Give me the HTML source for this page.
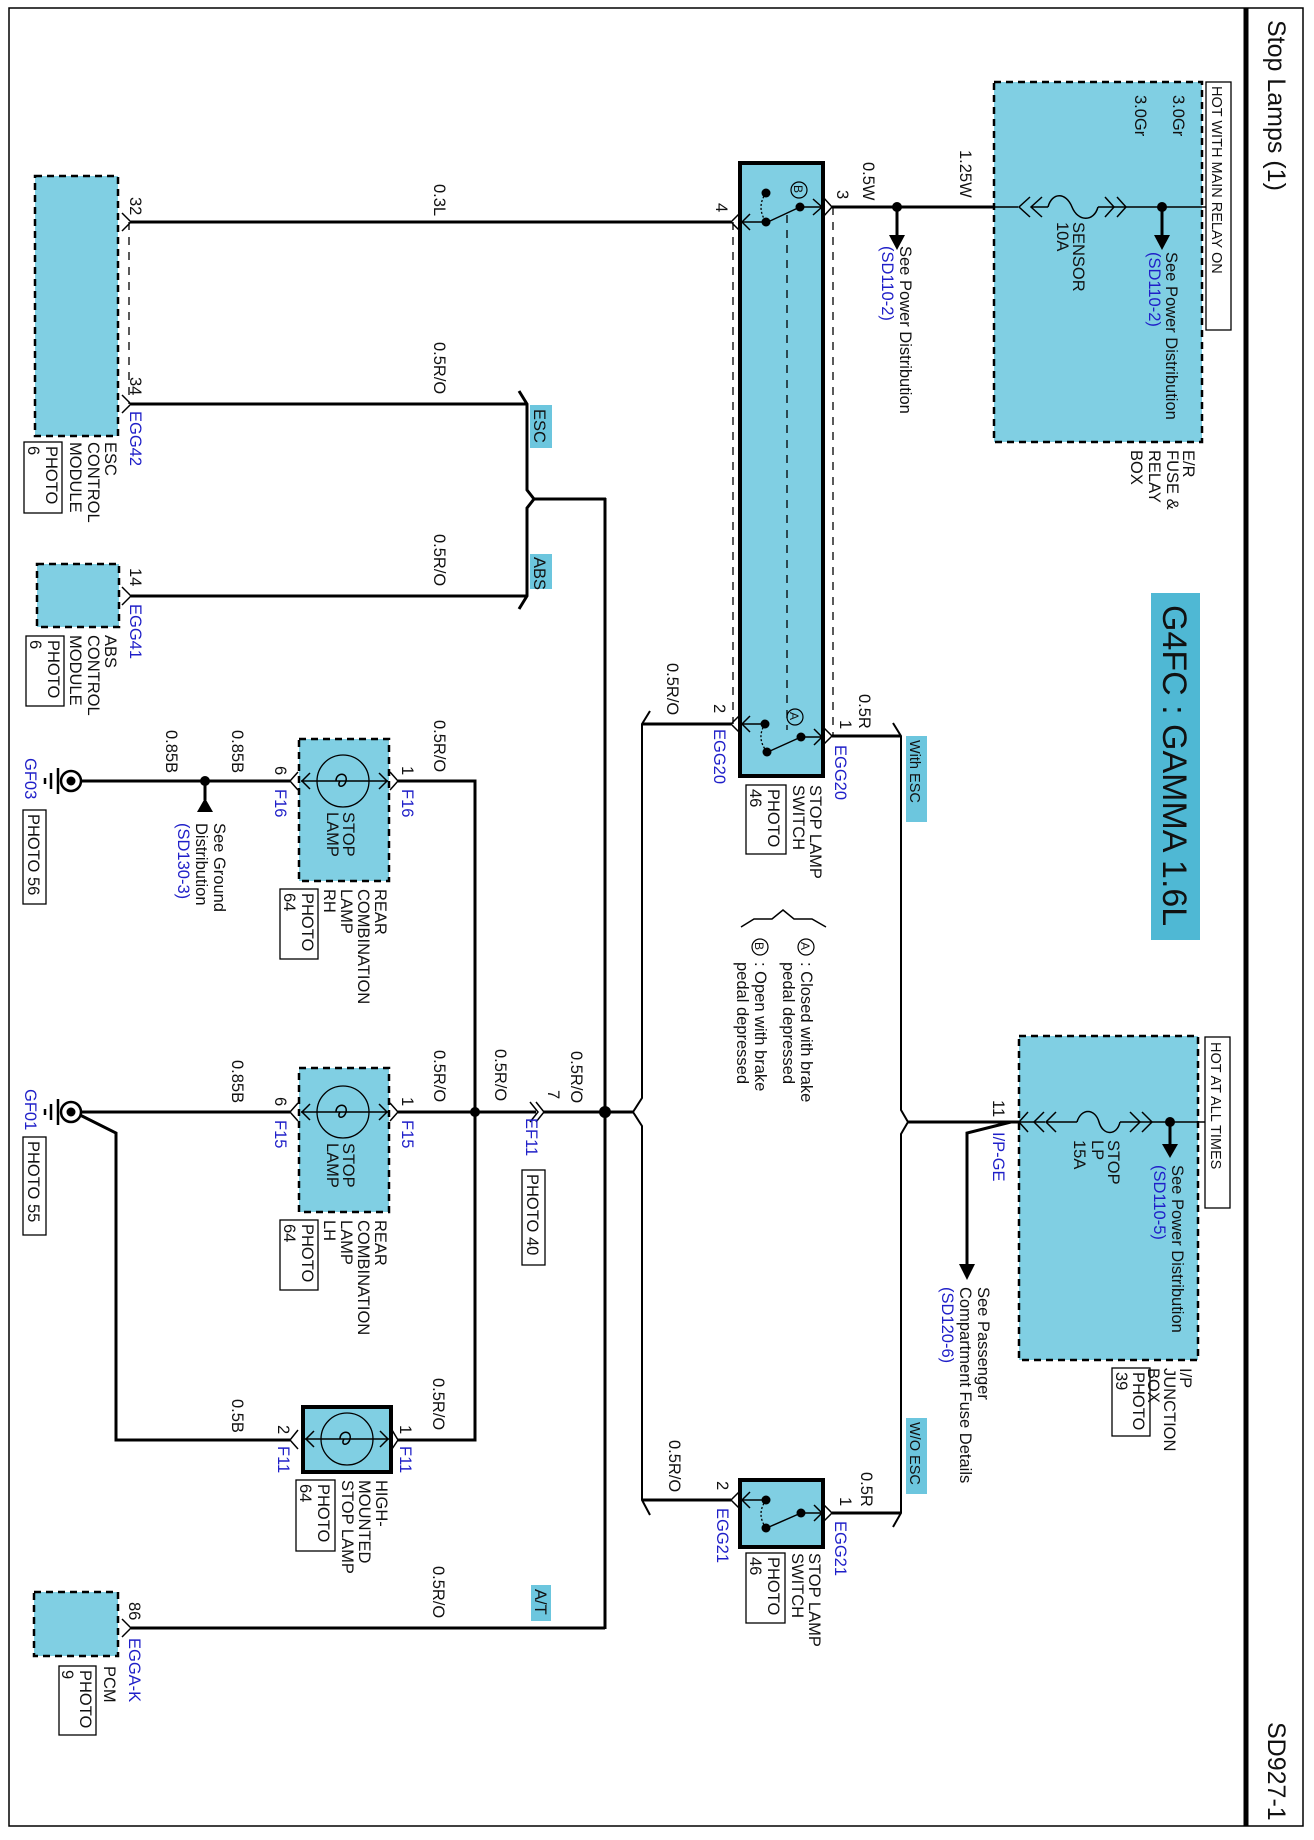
<!DOCTYPE html>
<html><head><meta charset="utf-8"><style>
html,body{margin:0;padding:0;background:#fff}
svg{display:block}
text{font-family:"Liberation Sans",Arial,sans-serif;font-size:16.5px;fill:#111}
.b{fill:#1f1fc8}
.w{stroke:#000;stroke-width:3;fill:none}
.t{stroke:#000;stroke-width:1.5;fill:none}
.box{fill:#80cfe3;stroke:#000;stroke-width:2.5;stroke-dasharray:7 5}
.sbox{fill:#80cfe3;stroke:#000;stroke-width:4}
.lb{fill:#6cc6de}
</style></head><body>
<svg width="1314" height="1840" viewBox="0 0 1314 1840" xmlns="http://www.w3.org/2000/svg">
<rect x="9" y="8" width="1294" height="1818" fill="none" stroke="#000" stroke-width="1.5"/>
<line x1="1246" y1="8" x2="1246" y2="1826" stroke="#000" stroke-width="5"/>
<text transform="translate(1268 20) rotate(90)" style="font-size:25px">Stop Lamps (1)</text>
<text transform="translate(1268 1722) rotate(90)" style="font-size:25px">SD927-1</text>

<!-- E/R fuse box -->
<rect class="box" x="994" y="82" width="208" height="360"/>
<rect x="1206" y="82" width="25" height="248" fill="#fff" stroke="#000" stroke-width="1.3"/>
<text transform="translate(1212 86) rotate(90)" style="font-size:14.5px">HOT WITH MAIN RELAY ON</text>
<line class="t" x1="994" y1="207" x2="1018" y2="207"/>
<polyline class="t" points="1030,197 1019,207 1030,217"/>
<polyline class="t" points="1042,197 1031,207 1042,217"/>
<line class="t" x1="1031" y1="207" x2="1048" y2="207"/>
<path class="t" d="M1048 207 C1052 192 1066 192 1072 207 C1078 222 1094 222 1098 207"/>
<line class="t" x1="1098" y1="207" x2="1125" y2="207"/>
<polyline class="t" points="1105,197 1114,207 1105,217"/>
<polyline class="t" points="1117,197 1126,207 1117,217"/>
<line class="t" x1="1126" y1="207" x2="1206" y2="207"/>
<circle cx="1162" cy="207" r="5"/>
<line class="w" x1="1162" y1="207" x2="1162" y2="236"/>
<polygon points="1154,235 1170,235 1162,250"/>
<text transform="translate(1173 95) rotate(90)">3.0Gr</text>
<text transform="translate(1135 95) rotate(90)">3.0Gr</text>
<text transform="translate(1166 252) rotate(90)">See Power Distribution</text>
<text class="b" transform="translate(1149 252) rotate(90)">(SD110-2)</text>
<text transform="translate(1073 222) rotate(90)">SENSOR</text>
<text transform="translate(1057 222) rotate(90)">10A</text>
<text transform="translate(1183 450) rotate(90)">E/R</text>
<text transform="translate(1167 450) rotate(90)">FUSE &amp;</text>
<text transform="translate(1149 450) rotate(90)">RELAY</text>
<text transform="translate(1131 450) rotate(90)">BOX</text>

<!-- wire to switch pin3 -->
<line class="w" x1="832" y1="207" x2="994" y2="207"/>
<circle cx="897" cy="207" r="5"/>
<line class="w" x1="897" y1="207" x2="897" y2="236"/>
<polygon points="889,235 905,235 897,250"/>
<text transform="translate(960 150) rotate(90)">1.25W</text>
<text transform="translate(863 162) rotate(90)">0.5W</text>
<text transform="translate(900 246) rotate(90)">See Power Distribution</text>
<text class="b" transform="translate(882 246) rotate(90)">(SD110-2)</text>

<!-- stop lamp switch EGG20 -->
<line x1="733" y1="222" x2="733" y2="724" stroke="#000" stroke-width="1.3" stroke-dasharray="8 7"/>
<line x1="833" y1="207" x2="833" y2="736" stroke="#000" stroke-width="1.3" stroke-dasharray="8 7"/>
<rect class="sbox" x="740" y="163" width="83" height="613"/>
<line x1="787" y1="215" x2="787" y2="730" stroke="#000" stroke-width="1.3" stroke-dasharray="8 7"/>
<circle cx="766" cy="193" r="4.5"/><circle cx="766" cy="222" r="4.5"/><circle cx="800" cy="207" r="4.5"/>
<line class="t" x1="800" y1="207" x2="770" y2="221"/>
<path d="M766 193 Q756 207 766 222" fill="none" stroke="#000" stroke-width="1.3" stroke-dasharray="2 2"/>
<line class="t" x1="800" y1="207" x2="823" y2="207"/>
<polyline class="t" points="813,199 822,207 813,215"/>
<line class="t" x1="766" y1="222" x2="741" y2="222"/>
<polyline class="t" points="750,214 742,222 750,230"/>
<polyline class="t" points="823,197 832,207 823,217"/>
<polyline class="t" points="740,213 731,222 740,231"/>
<circle cx="799" cy="190" r="8" fill="none" stroke="#000" stroke-width="1.2"/>
<text transform="translate(794 185) rotate(90)" style="font-size:12px">B</text>
<text transform="translate(837 190) rotate(90)">3</text>
<text transform="translate(716 203) rotate(90)">4</text>
<!-- A contacts -->
<circle cx="765" cy="724" r="4.5"/><circle cx="801" cy="737" r="4.5"/><circle cx="767" cy="752" r="4.5"/>
<line class="t" x1="801" y1="737" x2="770" y2="751"/>
<path d="M765 724 Q756 738 767 752" fill="none" stroke="#000" stroke-width="1.3" stroke-dasharray="2 2"/>
<line class="t" x1="801" y1="737" x2="823" y2="737"/>
<polyline class="t" points="814,729 822,737 814,745"/>
<line class="t" x1="765" y1="724" x2="741" y2="724"/>
<polyline class="t" points="750,716 742,724 750,732"/>
<polyline class="t" points="823,727 832,736 823,745"/>
<polyline class="t" points="740,715 731,724 740,733"/>
<circle cx="795" cy="717" r="8" fill="none" stroke="#000" stroke-width="1.2"/>
<text transform="translate(790 712) rotate(90)" style="font-size:12px">A</text>
<text transform="translate(714 704) rotate(90)">2</text>
<text transform="translate(840 720) rotate(90)">1</text>
<text class="b" transform="translate(835 745) rotate(90)">EGG20</text>
<text class="b" transform="translate(714 729) rotate(90)">EGG20</text>
<text transform="translate(810 785) rotate(90)">STOP LAMP</text>
<text transform="translate(793 785) rotate(90)">SWITCH</text>
<rect x="746" y="785" width="40" height="69" fill="none" stroke="#000" stroke-width="1.3"/>
<text transform="translate(768 789) rotate(90)">PHOTO</text>
<text transform="translate(750 789) rotate(90)">46</text>

<!-- legend -->
<path class="t" d="M741 927 L754 919 L772 919 L783 910 L794 919 L812 919 L826 927"/>
<circle cx="806" cy="947" r="8" fill="none" stroke="#000" stroke-width="1.2"/>
<text transform="translate(801 942) rotate(90)" style="font-size:12px">A</text>
<text transform="translate(801 962) rotate(90)">: Closed with brake</text>
<text transform="translate(783 962) rotate(90)">pedal depressed</text>
<circle cx="760" cy="947" r="8" fill="none" stroke="#000" stroke-width="1.2"/>
<text transform="translate(755 942) rotate(90)" style="font-size:12px">B</text>
<text transform="translate(755 962) rotate(90)">: Open with brake</text>
<text transform="translate(737 962) rotate(90)">pedal depressed</text>

<!-- G4FC -->
<rect x="1151" y="593" width="49" height="347" fill="#4fb8d4"/>
<text transform="translate(1163 605) rotate(90)" style="font-size:34px">G4FC : GAMMA 1.6L</text>

<!-- ESC module -->
<rect class="box" x="35" y="176" width="83" height="260"/>
<line x1="129" y1="222" x2="129" y2="404" stroke="#000" stroke-width="1.3" stroke-dasharray="8 7"/>
<polyline class="t" points="122,213 131,222 122,231"/>
<polyline class="t" points="122,395 131,404 122,413"/>
<line class="w" x1="131" y1="222" x2="731" y2="222"/>
<line class="w" x1="131" y1="404" x2="527" y2="404"/>
<text transform="translate(130 197) rotate(90)">32</text>
<text transform="translate(130 377) rotate(90)">34</text>
<text class="b" transform="translate(130 411) rotate(90)">EGG42</text>
<text transform="translate(434 184) rotate(90)">0.3L</text>
<text transform="translate(434 342) rotate(90)">0.5R/O</text>
<text transform="translate(105 442) rotate(90)">ESC</text>
<text transform="translate(88 442) rotate(90)">CONTROL</text>
<text transform="translate(70 442) rotate(90)">MODULE</text>
<rect x="24" y="442" width="38" height="71" fill="none" stroke="#000" stroke-width="1.3"/>
<text transform="translate(46 446) rotate(90)">PHOTO</text>
<text transform="translate(28 446) rotate(90)">6</text>

<!-- ABS module -->
<rect class="box" x="37" y="564" width="82" height="63"/>
<polyline class="t" points="122,587 131,596 122,605"/>
<line class="w" x1="131" y1="596" x2="527" y2="596"/>
<text transform="translate(130 568) rotate(90)">14</text>
<text class="b" transform="translate(130 604) rotate(90)">EGG41</text>
<text transform="translate(434 534) rotate(90)">0.5R/O</text>
<text transform="translate(105 635) rotate(90)">ABS</text>
<text transform="translate(88 635) rotate(90)">CONTROL</text>
<text transform="translate(70 635) rotate(90)">MODULE</text>
<rect x="26" y="636" width="38" height="70" fill="none" stroke="#000" stroke-width="1.3"/>
<text transform="translate(48 640) rotate(90)">PHOTO</text>
<text transform="translate(30 640) rotate(90)">6</text>

<!-- ESC/ABS splice -->
<polyline class="w" points="519,391 527,404 527,490 534,499 527,508 527,596 519,609"/>
<line class="w" x1="534" y1="499" x2="606" y2="499"/>
<rect class="lb" x="530" y="405" width="22" height="43"/>
<text transform="translate(534 409) rotate(90)">ESC</text>
<rect class="lb" x="530" y="554" width="22" height="35"/>
<text transform="translate(534 557) rotate(90)">ABS</text>

<!-- main vertical -->
<line class="w" x1="605" y1="498" x2="605" y2="1629"/>
<line class="w" x1="605" y1="1628" x2="131" y2="1628"/>

<!-- pin2 branch x=642 -->
<line class="w" x1="731" y1="724" x2="642" y2="724"/>
<polyline points="650,711 642,724 642,1098 633,1112 642,1126 642,1500 650,1515" fill="none" stroke="#000" stroke-width="2"/>
<line class="w" x1="642" y1="1500" x2="731" y2="1500"/>
<text transform="translate(667 663) rotate(90)">0.5R/O</text>

<!-- pin1 branch x=901 -->
<line class="w" x1="832" y1="736" x2="901" y2="736"/>
<polyline points="893,723 901,736 901,1110 908,1122 901,1134 901,1513 893,1527" fill="none" stroke="#000" stroke-width="2"/>
<line class="w" x1="901" y1="1513" x2="832" y2="1513"/>
<line class="w" x1="908" y1="1122" x2="1019" y2="1122"/>
<text transform="translate(859 694) rotate(90)">0.5R</text>
<rect class="lb" x="906" y="736" width="21" height="86"/>
<text transform="translate(910 740) rotate(90)" style="font-size:14.5px">With ESC</text>
<rect class="lb" x="906" y="1418" width="21" height="76"/>
<text transform="translate(910 1422) rotate(90)" style="font-size:14.5px">W/O ESC</text>

<!-- I/P junction box -->
<rect class="box" x="1019" y="1036" width="179" height="324"/>
<rect x="1205" y="1037" width="25" height="171" fill="#fff" stroke="#000" stroke-width="1.3"/>
<text transform="translate(1211 1042) rotate(90)" style="font-size:14.5px">HOT AT ALL TIMES</text>
<polyline class="t" points="1028,1112 1019,1122 1028,1132"/>
<line class="t" x1="1019" y1="1122" x2="1045" y2="1122"/>
<polyline class="t" points="1044,1112 1034,1122 1044,1132"/>
<polyline class="t" points="1056,1112 1046,1122 1056,1132"/>
<line class="t" x1="1046" y1="1122" x2="1077" y2="1122"/>
<path class="t" d="M1077 1122 C1081 1108 1095 1108 1099 1122 C1103 1136 1117 1136 1120 1122"/>
<line class="t" x1="1120" y1="1122" x2="1205" y2="1122"/>
<polyline class="t" points="1130,1112 1140,1122 1130,1132"/>
<polyline class="t" points="1142,1112 1152,1122 1142,1132"/>
<circle cx="1170" cy="1122" r="5"/>
<line class="w" x1="1170" y1="1122" x2="1170" y2="1146"/>
<polygon points="1162,1144 1178,1144 1170,1158"/>
<text transform="translate(1172 1165) rotate(90)">See Power Distribution</text>
<text class="b" transform="translate(1154 1165) rotate(90)">(SD110-5)</text>
<text transform="translate(1108 1140) rotate(90)">STOP</text>
<text transform="translate(1092 1140) rotate(90)">LP</text>
<text transform="translate(1074 1140) rotate(90)">15A</text>
<text transform="translate(993 1100) rotate(90)">11</text>
<text class="b" transform="translate(993 1132) rotate(90)">I/P-GE</text>
<polyline class="w" points="1011,1122 967,1133 967,1266"/>
<polygon points="959,1264 975,1264 967,1280"/>
<text transform="translate(978 1287) rotate(90)">See Passenger</text>
<text transform="translate(960 1287) rotate(90)">Compartment Fuse Details</text>
<text class="b" transform="translate(942 1287) rotate(90)">(SD120-6)</text>
<text transform="translate(1180 1368) rotate(90)">I/P</text>
<text transform="translate(1164 1368) rotate(90)">JUNCTION</text>
<text transform="translate(1148 1368) rotate(90)">BOX</text>
<rect x="1112" y="1368" width="38" height="68" fill="none" stroke="#000" stroke-width="1.3"/>
<text transform="translate(1133 1372) rotate(90)">PHOTO</text>
<text transform="translate(1116 1372) rotate(90)">39</text>

<!-- RH lamp -->
<rect class="box" x="299" y="739" width="90" height="142"/>
<circle cx="343" cy="781" r="26" fill="none" stroke="#000" stroke-width="1.3"/>
<line class="t" x1="301" y1="781" x2="388" y2="781"/>
<polyline class="t" points="310,773 302,781 310,789"/><polyline class="t" points="379,773 387,781 379,789"/>
<path class="t" d="M336 781 C336 772 348 772 346 781 C344 789 336 787 340 781"/>
<polyline class="t" points="298,772 290,781 298,790"/>
<polyline class="t" points="390,772 398,781 390,790"/>
<polyline class="w" points="398,781 475,781 475,1440 398,1440"/>
<line class="w" x1="80" y1="781" x2="290" y2="781"/>
<circle cx="205" cy="781" r="5"/>
<line class="w" x1="205" y1="781" x2="205" y2="800"/>
<polygon points="205,798 197,812 213,812"/>
<text transform="translate(232 730) rotate(90)">0.85B</text>
<text transform="translate(166 730) rotate(90)">0.85B</text>
<text transform="translate(434 720) rotate(90)">0.5R/O</text>
<text transform="translate(275 766) rotate(90)">6</text>
<text class="b" transform="translate(275 789) rotate(90)">F16</text>
<text transform="translate(402 766) rotate(90)">1</text>
<text class="b" transform="translate(402 789) rotate(90)">F16</text>
<text transform="translate(343 812) rotate(90)">STOP</text>
<text transform="translate(327 812) rotate(90)">LAMP</text>
<text transform="translate(375 889) rotate(90)">REAR</text>
<text transform="translate(358 889) rotate(90)">COMBINATION</text>
<text transform="translate(341 889) rotate(90)">LAMP</text>
<text transform="translate(324 889) rotate(90)">RH</text>
<rect x="280" y="889" width="38" height="70" fill="none" stroke="#000" stroke-width="1.3"/>
<text transform="translate(302 893) rotate(90)">PHOTO</text>
<text transform="translate(284 893) rotate(90)">64</text>
<text transform="translate(214 823) rotate(90)">See Ground</text>
<text transform="translate(196 823) rotate(90)">Distribution</text>
<text class="b" transform="translate(178 823) rotate(90)">(SD130-3)</text>
<!-- GF03 -->
<circle cx="71" cy="781" r="10" fill="#fff" stroke="#000" stroke-width="2.5"/>
<circle cx="71" cy="781" r="4.5"/>
<line x1="58" y1="768" x2="58" y2="794" stroke="#000" stroke-width="2.5"/>
<line x1="51" y1="773" x2="51" y2="789" stroke="#000" stroke-width="2.5"/>
<line x1="45" y1="778" x2="45" y2="784" stroke="#000" stroke-width="2.5"/>
<text class="b" transform="translate(25 758) rotate(90)">GF03</text>
<rect x="23" y="810" width="23" height="94" fill="none" stroke="#000" stroke-width="1.3"/>
<text transform="translate(28 814) rotate(90)">PHOTO 56</text>

<!-- LH lamp -->
<rect class="box" x="299" y="1068" width="90" height="144"/>
<circle cx="343" cy="1112" r="26" fill="none" stroke="#000" stroke-width="1.3"/>
<line class="t" x1="301" y1="1112" x2="388" y2="1112"/>
<polyline class="t" points="310,1104 302,1112 310,1120"/><polyline class="t" points="379,1104 387,1112 379,1120"/>
<path class="t" d="M336 1112 C336 1103 348 1103 346 1112 C344 1120 336 1118 340 1112"/>
<polyline class="t" points="298,1103 290,1112 298,1121"/>
<polyline class="t" points="390,1103 398,1112 390,1121"/>
<line class="w" x1="398" y1="1112" x2="536" y2="1112"/>
<polyline class="t" points="530,1102 538,1112 530,1122"/>
<polyline class="t" points="536,1102 544,1112 536,1122"/>
<line class="w" x1="543" y1="1112" x2="634" y2="1112"/>
<circle cx="475" cy="1112" r="5"/>
<circle cx="605" cy="1112" r="6"/>
<line class="w" x1="80" y1="1112" x2="290" y2="1112"/>
<polyline class="w" points="80,1115 116,1133 116,1440 290,1440"/>
<text transform="translate(232 1060) rotate(90)">0.85B</text>
<text transform="translate(434 1050) rotate(90)">0.5R/O</text>
<text transform="translate(495 1049) rotate(90)">0.5R/O</text>
<text transform="translate(571 1051) rotate(90)">0.5R/O</text>
<text transform="translate(548 1090) rotate(90)">7</text>
<text class="b" transform="translate(526 1118) rotate(90)">EF11</text>
<rect x="522" y="1170" width="23" height="95" fill="none" stroke="#000" stroke-width="1.3"/>
<text transform="translate(527 1174) rotate(90)">PHOTO 40</text>
<text transform="translate(275 1097) rotate(90)">6</text>
<text class="b" transform="translate(275 1120) rotate(90)">F15</text>
<text transform="translate(402 1097) rotate(90)">1</text>
<text class="b" transform="translate(402 1120) rotate(90)">F15</text>
<text transform="translate(343 1143) rotate(90)">STOP</text>
<text transform="translate(327 1143) rotate(90)">LAMP</text>
<text transform="translate(375 1220) rotate(90)">REAR</text>
<text transform="translate(358 1220) rotate(90)">COMBINATION</text>
<text transform="translate(341 1220) rotate(90)">LAMP</text>
<text transform="translate(324 1220) rotate(90)">LH</text>
<rect x="280" y="1220" width="38" height="70" fill="none" stroke="#000" stroke-width="1.3"/>
<text transform="translate(302 1224) rotate(90)">PHOTO</text>
<text transform="translate(284 1224) rotate(90)">64</text>
<!-- GF01 -->
<circle cx="71" cy="1112" r="10" fill="#fff" stroke="#000" stroke-width="2.5"/>
<circle cx="71" cy="1112" r="4.5"/>
<line x1="58" y1="1099" x2="58" y2="1125" stroke="#000" stroke-width="2.5"/>
<line x1="51" y1="1104" x2="51" y2="1120" stroke="#000" stroke-width="2.5"/>
<line x1="45" y1="1109" x2="45" y2="1115" stroke="#000" stroke-width="2.5"/>
<text class="b" transform="translate(25 1089) rotate(90)">GF01</text>
<rect x="23" y="1137" width="23" height="98" fill="none" stroke="#000" stroke-width="1.3"/>
<text transform="translate(28 1141) rotate(90)">PHOTO 55</text>

<!-- HMSL -->
<rect class="sbox" x="303" y="1407" width="88" height="65"/>
<circle cx="347" cy="1439" r="26" fill="none" stroke="#000" stroke-width="1.3"/>
<line class="t" x1="305" y1="1439" x2="389" y2="1439"/>
<polyline class="t" points="314,1431 306,1439 314,1447"/><polyline class="t" points="380,1431 388,1439 380,1447"/>
<path class="t" d="M340 1439 C340 1430 352 1430 350 1439 C348 1447 340 1445 344 1439"/>
<polyline class="t" points="298,1430 290,1440 298,1449"/>
<polyline class="t" points="392,1430 398,1440 392,1449"/>
<text transform="translate(232 1399) rotate(90)">0.5B</text>
<text transform="translate(433 1378) rotate(90)">0.5R/O</text>
<text transform="translate(278 1425) rotate(90)">2</text>
<text class="b" transform="translate(278 1446) rotate(90)">F11</text>
<text transform="translate(400 1425) rotate(90)">1</text>
<text class="b" transform="translate(400 1446) rotate(90)">F11</text>
<text transform="translate(376 1480) rotate(90)">HIGH-</text>
<text transform="translate(359 1480) rotate(90)">MOUNTED</text>
<text transform="translate(342 1480) rotate(90)">STOP LAMP</text>
<rect x="296" y="1480" width="39" height="71" fill="none" stroke="#000" stroke-width="1.3"/>
<text transform="translate(318 1484) rotate(90)">PHOTO</text>
<text transform="translate(300 1484) rotate(90)">64</text>

<!-- PCM -->
<rect class="box" x="34" y="1592" width="84" height="64"/>
<polyline class="t" points="122,1619 131,1628 122,1637"/>
<text transform="translate(129 1602) rotate(90)">86</text>
<text class="b" transform="translate(129 1638) rotate(90)">EGGA-K</text>
<text transform="translate(433 1566) rotate(90)">0.5R/O</text>
<rect class="lb" x="531" y="1585" width="20" height="36"/>
<text transform="translate(535 1589) rotate(90)">A/T</text>
<text transform="translate(104 1666) rotate(90)">PCM</text>
<rect x="59" y="1666" width="37" height="69" fill="none" stroke="#000" stroke-width="1.3"/>
<text transform="translate(80 1670) rotate(90)">PHOTO</text>
<text transform="translate(62 1670) rotate(90)">9</text>

<!-- EGG21 switch -->
<rect class="sbox" x="740" y="1480" width="83" height="67"/>
<circle cx="766" cy="1500" r="4.5"/><circle cx="801" cy="1513" r="4.5"/><circle cx="766" cy="1528" r="4.5"/>
<line class="t" x1="801" y1="1513" x2="769" y2="1527"/>
<path d="M766 1500 Q756 1514 766 1528" fill="none" stroke="#000" stroke-width="1.3" stroke-dasharray="2 2"/>
<line class="t" x1="801" y1="1513" x2="823" y2="1513"/>
<polyline class="t" points="814,1505 822,1513 814,1521"/>
<line class="t" x1="766" y1="1500" x2="741" y2="1500"/>
<polyline class="t" points="750,1492 742,1500 750,1508"/>
<polyline class="t" points="823,1504 832,1513 823,1522"/>
<polyline class="t" points="740,1491 731,1500 740,1509"/>
<text transform="translate(669 1440) rotate(90)">0.5R/O</text>
<text transform="translate(861 1472) rotate(90)">0.5R</text>
<text transform="translate(717 1481) rotate(90)">2</text>
<text class="b" transform="translate(717 1508) rotate(90)">EGG21</text>
<text transform="translate(840 1497) rotate(90)">1</text>
<text class="b" transform="translate(835 1521) rotate(90)">EGG21</text>
<text transform="translate(809 1553) rotate(90)">STOP LAMP</text>
<text transform="translate(792 1553) rotate(90)">SWITCH</text>
<rect x="746" y="1553" width="39" height="70" fill="none" stroke="#000" stroke-width="1.3"/>
<text transform="translate(768 1557) rotate(90)">PHOTO</text>
<text transform="translate(750 1557) rotate(90)">46</text>
</svg>
</body></html>
